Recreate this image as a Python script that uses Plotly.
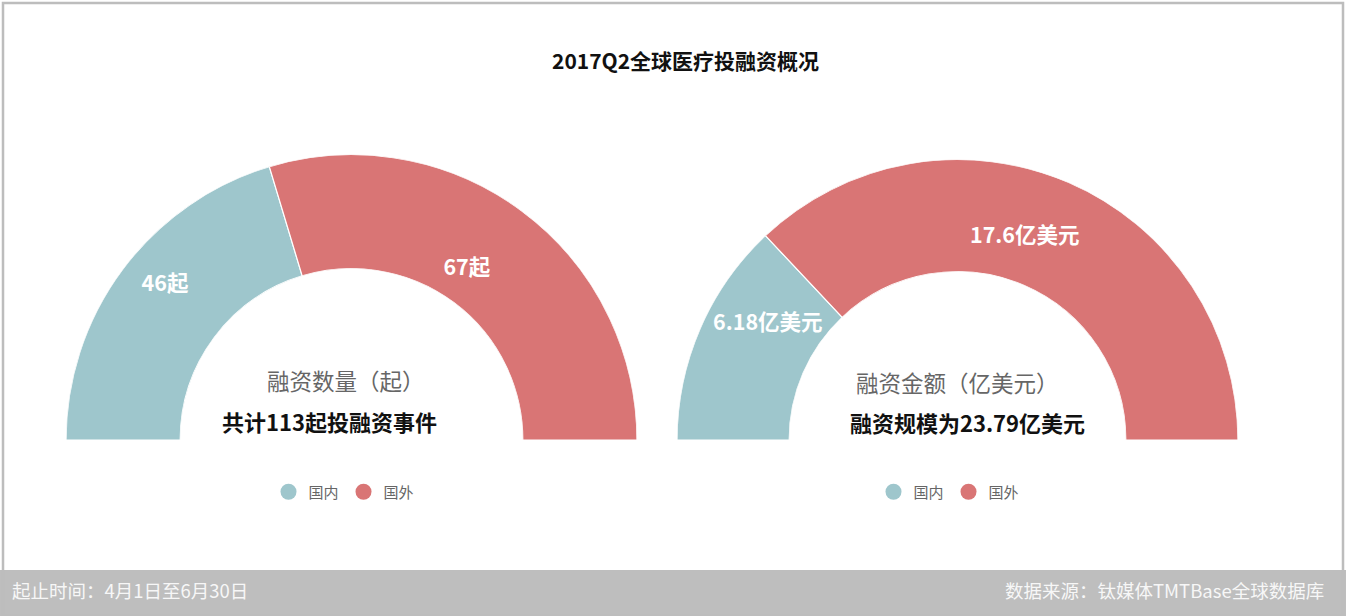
import plotly.graph_objects as go

categories = ["国内", "国外"]
count_values = [46, 67]
count_labels = ["46起", "67起"]
amount_values = [6.18, 17.6]
amount_labels = ["6.18亿美元", "17.6亿美元"]
colors = ["#9ec6cc", "#d97575"]

title_text = "2017Q2全球医疗投融资概况"
left_name = "融资数量（起）"
left_total = "共计113起投融资事件"
right_name = "融资金额（亿美元）"
right_total = "融资规模为23.79亿美元"
footer_left = "起止时间：4月1日至6月30日"
footer_right = "数据来源：钛媒体TMTBase全球数据库"

# label placement tuning inside ring (radial: 0 = inner edge, 1 = outer edge; angular nudge in degrees)
left_label_r = [0.62, 0.3]
right_label_r = [0.48, 0.4]
left_label_nudge = [3, -2.5]
right_label_nudge = [8, -5]

FONT = "Noto Sans CJK SC"
W, H = 1346, 616


def half_donut_angles(values):
    total = sum(values)
    widths = [v / total * 180 for v in values]
    centers = []
    acc = 0
    for w in widths:
        centers.append(acc + w / 2)
        acc += w
    return centers, widths


fig = go.Figure()

for polar_id, values, labels, legend_id, label_r, nudge in [
    ("polar", count_values, count_labels, "legend", left_label_r, left_label_nudge),
    ("polar2", amount_values, amount_labels, "legend2", right_label_r, right_label_nudge),
]:
    centers, widths = half_donut_angles(values)
    for i, cat in enumerate(categories):
        fig.add_trace(go.Barpolar(
            r=[1], theta=[centers[i]], width=[widths[i]],
            marker=dict(color=colors[i], line=dict(color="white", width=1.2)),
            subplot=polar_id, showlegend=False, hoverinfo="skip",
        ))
    fig.add_trace(go.Scatterpolar(
        r=label_r, theta=[c + n for c, n in zip(centers, nudge)], mode="text", text=labels,
        textfont=dict(family=FONT, size=21.5, color="white", weight="bold"),
        subplot=polar_id, showlegend=False, hoverinfo="skip",
    ))
    for i, cat in enumerate(categories):
        fig.add_trace(go.Scatterpolar(
            r=[None], theta=[None], mode="markers", name=cat,
            marker=dict(color=colors[i], size=19, symbol="circle"),
            subplot=polar_id, legend=legend_id, showlegend=True,
        ))

polar_common = dict(
    sector=[0, 180], hole=0.6, bgcolor="rgba(0,0,0,0)",
    radialaxis=dict(visible=False, range=[0, 1]),
    angularaxis=dict(visible=False, rotation=180, direction="clockwise",
                     showgrid=False),
)

fig.update_layout(
    width=W, height=H,
    margin=dict(l=0, r=0, t=0, b=0),
    paper_bgcolor="white", plot_bgcolor="white",
    font=dict(family=FONT),
    polar=dict(domain=dict(x=[66 / W, 637 / W], y=[1 - 440 / H, 1 - 154.5 / H]), **polar_common),
    polar2=dict(domain=dict(x=[677 / W, 1238 / W], y=[1 - 440 / H, 1 - 159.5 / H]), **polar_common),
    legend=dict(orientation="h", x=344 / W, xanchor="center", y=1 - 492 / H, yanchor="middle",
                font=dict(family=FONT, size=15, color="#666666"), bgcolor="rgba(0,0,0,0)"),
    legend2=dict(orientation="h", x=949 / W, xanchor="center", y=1 - 492 / H, yanchor="middle",
                 font=dict(family=FONT, size=15, color="#666666"), bgcolor="rgba(0,0,0,0)"),
    showlegend=True,
)

annotations = [
    dict(text=title_text, x=685 / W, y=1 - 60 / H, font=dict(size=21, color="#111111", weight="bold")),
    dict(text=left_name, x=346 / W, y=1 - 380 / H, font=dict(size=22.5, color="#666666")),
    dict(text=left_total, x=329 / W, y=1 - 421 / H, font=dict(size=22, color="#111111", weight="bold")),
    dict(text=right_name, x=957 / W, y=1 - 382 / H, font=dict(size=22.5, color="#666666")),
    dict(text=right_total, x=967 / W, y=1 - 422 / H, font=dict(size=22, color="#111111", weight="bold")),
]
for a in annotations:
    a.update(xref="paper", yref="paper", showarrow=False, xanchor="center", yanchor="middle")
    a["font"]["family"] = FONT
    fig.add_annotation(**a)

fig.add_annotation(text=footer_left, xref="paper", yref="paper", x=10 / W, y=1 - 590 / H,
                   xanchor="left", yanchor="middle", showarrow=False,
                   font=dict(family=FONT, size=18.5, color="#f7f7f7"))
fig.add_annotation(text=footer_right, xref="paper", yref="paper", x=1326 / W, y=1 - 590 / H,
                   xanchor="right", yanchor="middle", showarrow=False,
                   font=dict(family=FONT, size=18.5, color="#f7f7f7"))

fig.add_shape(type="rect", xref="paper", yref="paper", x0=3 / W, x1=1343 / W, y0=0, y1=1 - 3 / H,
              line=dict(color="#bdbdbd", width=2.5), fillcolor="rgba(0,0,0,0)", layer="above")
fig.add_shape(type="rect", xref="paper", yref="paper", x0=0, x1=1, y0=0, y1=1 - 570 / H,
              line=dict(width=0), fillcolor="#bebebe", layer="below")

fig.write_html(
    "out.html",
    config={"displayModeBar": False},
    post_script="document.body.style.margin='0';document.body.style.overflow='hidden';",
)
